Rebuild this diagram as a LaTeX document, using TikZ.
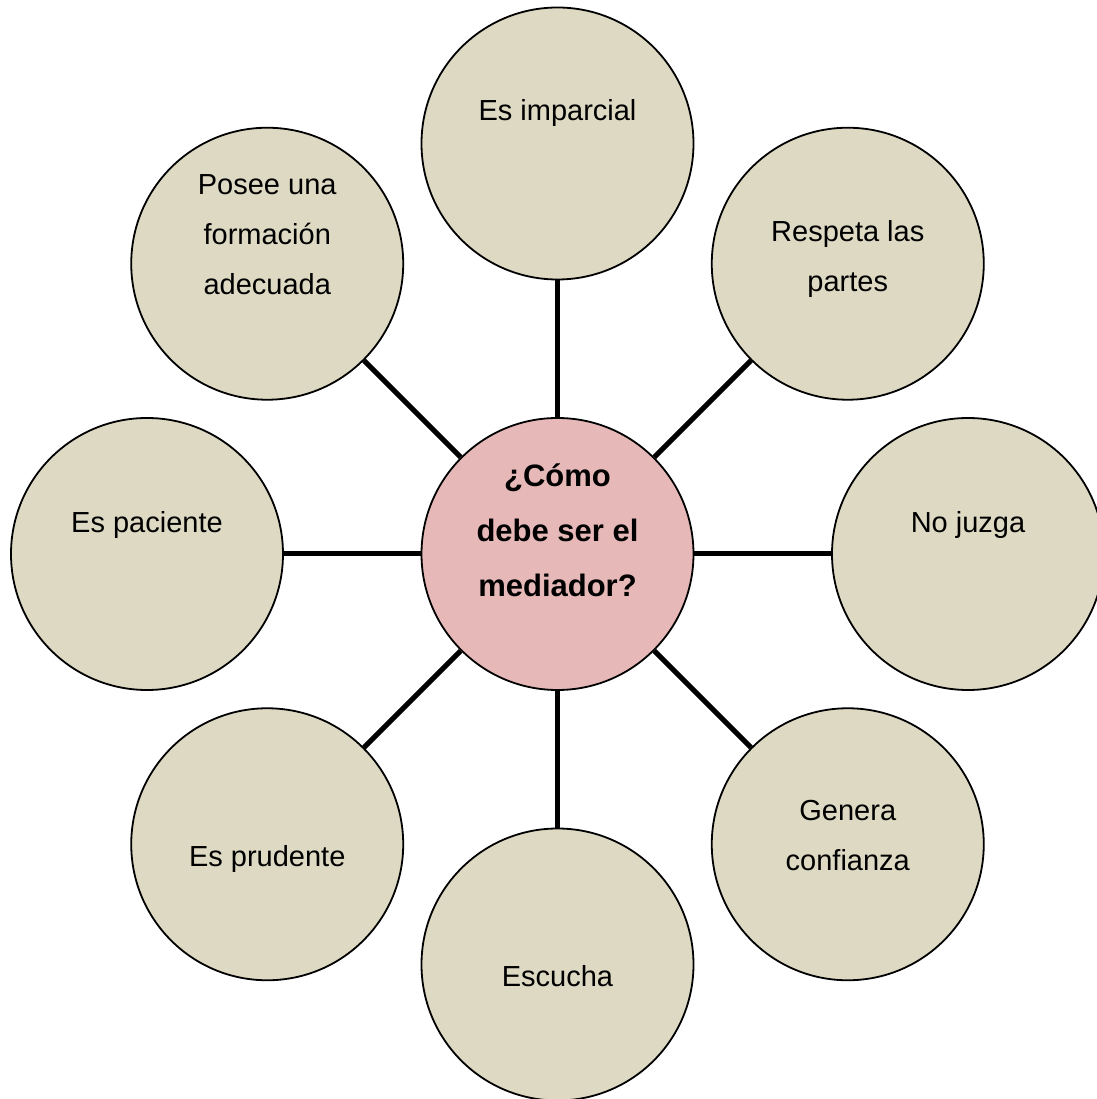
\documentclass[tikz,border=0pt]{standalone}
\usepackage{fontspec}
\setmainfont{Liberation Sans}
\definecolor{fondo}{RGB}{221,217,195}
\definecolor{rosa}{RGB}{230,185,184}

\begin{document}
\begin{tikzpicture}[x=1pt, y=1pt,
  every node/.style={font=\fontsize{29}{50}\selectfont, align=center},
  rasgo/.style={circle, draw=black, line width=1.8pt, fill=fondo, minimum size=272pt, inner sep=0pt},
  central/.style={rasgo, fill=rosa},
  enlace/.style={line width=5pt}]
\useasboundingbox (-557.5,-545) rectangle (538.5,554);
% circles
\node[central] (mediador) at (0,0) {};
\node[rasgo] (imparcial) at (90:410.5) {};
\node[rasgo] (respeta) at (45:410.5) {};
\node[rasgo] (juzga) at (0:410.5) {};
\node[rasgo] (confianza) at (-45:410.5) {};
\node[rasgo] (escucha) at (-90:410.5) {};
\node[rasgo] (prudente) at (-135:410.5) {};
\node[rasgo] (paciente) at (180:410.5) {};
\node[rasgo] (formacion) at (135:410.5) {};
% connectors
\draw[enlace] (mediador) -- (imparcial);
\draw[enlace] (mediador) -- (respeta);
\draw[enlace] (mediador) -- (juzga);
\draw[enlace] (mediador) -- (confianza);
\draw[enlace] (mediador) -- (escucha);
\draw[enlace] (mediador) -- (prudente);
\draw[enlace] (mediador) -- (paciente);
\draw[enlace] (mediador) -- (formacion);
% labels
\node[font=\bfseries\fontsize{31}{55}\selectfont] (pregunta) at ([yshift=23.6]mediador.center) {¿Cómo\\debe ser el\\mediador?};
\node (timparcial) at ([yshift=30]imparcial.center) {Es imparcial};
\node (trespeta) at ([yshift=4.6]respeta.center) {Respeta las\\partes};
\node (tjuzga) at ([yshift=29.4]juzga.center) {No juzga};
\node (tconfianza) at ([yshift=8.4]confianza.center) {Genera\\confianza};
\node (tescucha) at ([yshift=-12.1]escucha.center) {Escucha};
\node (tprudente) at ([yshift=-15]prudente.center) {Es prudente};
\node (tpaciente) at ([yshift=28.7]paciente.center) {Es paciente};
\node (tformacion) at ([yshift=29.1]formacion.center) {Posee una\\formación\\adecuada};
\end{tikzpicture}
\end{document}
